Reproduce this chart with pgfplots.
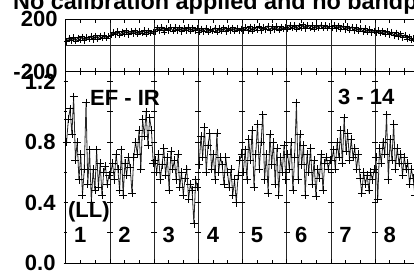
\documentclass[border=0pt]{standalone}
\usepackage{pgfplots}
\pgfplotsset{compat=1.18}
\usepackage{fontspec}
\setmainfont{Liberation Sans}
\pgfplotsset{pp/.style={scale only axis, width=353.6pt, xmin=0, xmax=8,
  xtick={0,1,...,8}, xticklabels={}, minor x tick num=2, xtick align=inside,
  xmajorgrids, major grid style={black!85, line width=0.7pt},
  axis line style={line width=0.8pt},
  major tick length=4pt, minor tick length=3.5pt,
  every tick/.style={black, line width=0.7pt},
  tick label style={font=\fontsize{22}{24}\selectfont\bfseries},
  yticklabel style={inner sep=0pt, xshift=-8pt}},
  dat/.style={black!85, line width=0.8pt, mark=+, mark size=4pt, mark options={black, line width=0.7pt}},
  tdat/.style={black, line width=0.9pt, mark=+, mark size=3pt, mark options={black, line width=0.7pt}}}
\begin{document}
\begin{tikzpicture}[x=1pt,y=1pt]
\path[use as bounding box] (0,0) rectangle (414,-277);
\clip (0,0) rectangle (414,-277);
\node[anchor=base west, inner sep=0pt, font=\fontsize{23.4}{26}\selectfont\bfseries] at (13,-9.5) {No calibration applied and no bandpass};
% top panel: phase
\begin{axis}[pp, at={(65.7pt,-71.7pt)}, anchor=south west, height=52.4pt,
  ymin=-200, ymax=200, ytick={-200,200}, yticklabels={-200,200}, ytick align=inside,
  extra y ticks={0}, extra y tick labels={}, extra y tick style={grid=major, major tick length=0pt}]
\addplot[tdat] coordinates {(0.025,30)(0.075,58)(0.125,36)(0.175,64)(0.225,34)(0.275,60)(0.325,42)(0.375,68)(0.425,38)(0.475,66)(0.525,46)(0.575,72)(0.625,44)(0.675,74)(0.725,50)(0.775,76)(0.825,54)(0.875,78)(0.925,56)(0.975,72)};
\addplot[tdat] coordinates {(1.025,78)(1.075,104)(1.125,84)(1.175,110)(1.225,80)(1.275,106)(1.325,88)(1.375,112)(1.425,84)(1.475,108)(1.525,90)(1.575,114)(1.625,86)(1.675,110)(1.725,92)(1.775,116)(1.825,88)(1.875,112)(1.925,94)(1.975,106)};
\addplot[tdat] coordinates {(2.025,106)(2.075,136)(2.125,112)(2.175,140)(2.225,104)(2.275,134)(2.325,114)(2.375,140)(2.425,110)(2.475,138)(2.525,112)(2.575,136)(2.625,106)(2.675,134)(2.725,114)(2.775,140)(2.825,110)(2.875,136)(2.925,112)(2.975,130)};
\addplot[tdat] coordinates {(3.025,102)(3.075,128)(3.125,106)(3.175,132)(3.225,100)(3.275,126)(3.325,108)(3.375,134)(3.425,104)(3.475,130)(3.525,110)(3.575,136)(3.625,106)(3.675,132)(3.725,112)(3.775,136)(3.825,108)(3.875,132)(3.925,114)(3.975,128)};
\addplot[tdat] coordinates {(4.025,112)(4.075,138)(4.125,114)(4.175,144)(4.225,108)(4.275,140)(4.325,118)(4.375,146)(4.425,112)(4.475,142)(4.525,120)(4.575,148)(4.625,114)(4.675,144)(4.725,122)(4.775,148)(4.825,118)(4.875,144)(4.925,124)(4.975,138)};
\addplot[tdat] coordinates {(5.025,126)(5.075,154)(5.125,130)(5.175,156)(5.225,124)(5.275,152)(5.325,132)(5.375,158)(5.425,128)(5.475,156)(5.525,134)(5.575,154)(5.625,126)(5.675,152)(5.725,132)(5.775,156)(5.825,130)(5.875,154)(5.925,134)(5.975,148)};
\addplot[tdat] coordinates {(6.025,132)(6.075,154)(6.125,128)(6.175,152)(6.225,124)(6.275,148)(6.325,122)(6.375,146)(6.425,118)(6.475,142)(6.525,114)(6.575,138)(6.625,110)(6.675,134)(6.725,106)(6.775,130)(6.825,102)(6.875,124)(6.925,98)(6.975,114)};
\addplot[tdat] coordinates {(7.025,98)(7.075,118)(7.125,92)(7.175,114)(7.225,88)(7.275,110)(7.325,82)(7.375,104)(7.425,76)(7.475,98)(7.525,68)(7.575,90)(7.625,60)(7.675,80)(7.725,50)(7.775,68)(7.825,40)(7.875,56)(7.925,28)(7.975,34)};
\end{axis}
% bottom panel: amplitude
\begin{axis}[pp, at={(65.7pt,-263pt)}, anchor=south west, height=191.3pt,
  ymin=0, ymax=1.265, ytick={0,0.4,0.8,1.2}, yticklabels={0.0,0.4,0.8,1.2},
  minor y tick num=1, ytick align=center]
\addplot[draw=none, mark=-, mark size=3pt, mark options={black, line width=0.7pt}] coordinates {
(1,0.2)(1,0.4)(1,0.6)(1,0.8)(1,1.0)(1,1.2)
(2,0.2)(2,0.4)(2,0.6)(2,0.8)(2,1.0)(2,1.2)
(3,0.2)(3,0.4)(3,0.6)(3,0.8)(3,1.0)(3,1.2)
(4,0.2)(4,0.4)(4,0.6)(4,0.8)(4,1.0)(4,1.2)
(5,0.2)(5,0.4)(5,0.6)(5,0.8)(5,1.0)(5,1.2)
(6,0.2)(6,0.4)(6,0.6)(6,0.8)(6,1.0)(6,1.2)
(7,0.2)(7,0.4)(7,0.6)(7,0.8)(7,1.0)(7,1.2)};
\addplot[dat] coordinates {(0.02,0.80)(0.06,0.95)(0.10,1.02)(0.14,0.85)(0.18,1.10)(0.22,0.68)(0.26,0.80)(0.30,0.55)(0.34,0.72)(0.38,0.45)(0.42,0.62)(0.46,1.06)(0.50,0.52)(0.54,0.75)(0.58,0.40)(0.62,0.62)(0.66,0.48)(0.70,0.75)(0.74,0.50)(0.78,0.66)(0.82,0.45)(0.86,0.60)(0.90,0.64)(0.94,0.52)(0.98,0.58)};
\addplot[dat] coordinates {(1.02,0.60)(1.06,0.66)(1.10,0.55)(1.14,0.72)(1.18,0.62)(1.22,0.48)(1.26,0.75)(1.30,0.45)(1.34,0.66)(1.38,0.58)(1.42,0.70)(1.46,0.63)(1.50,0.46)(1.54,0.70)(1.58,0.80)(1.62,0.72)(1.66,0.88)(1.70,0.62)(1.74,0.95)(1.78,0.84)(1.82,1.00)(1.86,0.78)(1.90,0.96)(1.94,0.88)(1.98,0.66)};
\addplot[dat] coordinates {(2.02,0.68)(2.06,0.60)(2.10,0.72)(2.14,0.55)(2.18,0.65)(2.22,0.76)(2.26,0.58)(2.30,0.70)(2.34,0.48)(2.38,0.74)(2.42,0.62)(2.46,0.68)(2.50,0.55)(2.54,0.72)(2.58,0.50)(2.62,0.60)(2.66,0.45)(2.70,0.56)(2.74,0.62)(2.78,0.42)(2.82,0.52)(2.86,0.48)(2.90,0.26)(2.94,0.55)(2.98,0.50)};
\addplot[dat] coordinates {(3.02,0.65)(3.06,0.84)(3.10,0.70)(3.14,0.90)(3.18,0.60)(3.22,0.78)(3.26,0.86)(3.30,0.62)(3.34,0.72)(3.38,0.55)(3.42,0.86)(3.46,0.60)(3.50,0.70)(3.54,0.65)(3.58,0.52)(3.62,0.70)(3.66,0.60)(3.70,0.50)(3.74,0.62)(3.78,0.45)(3.82,0.55)(3.86,0.40)(3.90,0.58)(3.94,0.68)(3.98,0.72)};
\addplot[dat] coordinates {(4.02,0.60)(4.06,0.75)(4.10,0.55)(4.14,0.82)(4.18,0.68)(4.22,0.88)(4.26,0.50)(4.30,0.72)(4.34,0.92)(4.38,0.62)(4.42,0.80)(4.46,0.98)(4.50,0.55)(4.54,0.72)(4.58,0.46)(4.62,0.85)(4.66,0.65)(4.70,0.80)(4.74,0.52)(4.78,0.76)(4.82,0.45)(4.86,0.70)(4.90,0.60)(4.94,0.78)(4.98,0.55)};
\addplot[dat] coordinates {(5.02,0.72)(5.06,0.62)(5.10,0.80)(5.14,0.48)(5.18,0.70)(5.22,1.06)(5.26,0.55)(5.30,0.85)(5.34,0.65)(5.38,0.78)(5.42,0.45)(5.46,0.72)(5.50,0.60)(5.54,0.76)(5.58,0.52)(5.62,0.68)(5.66,0.44)(5.70,0.62)(5.74,0.56)(5.78,0.72)(5.82,0.48)(5.86,0.66)(5.90,0.70)(5.94,0.62)(5.98,0.68)};
\addplot[dat] coordinates {(6.02,0.68)(6.06,0.75)(6.10,0.62)(6.14,0.80)(6.18,0.70)(6.22,0.88)(6.26,0.66)(6.30,0.96)(6.34,0.74)(6.38,0.86)(6.42,0.68)(6.46,0.82)(6.50,0.70)(6.54,0.76)(6.58,0.62)(6.62,0.72)(6.66,0.56)(6.70,0.46)(6.74,0.60)(6.78,0.52)(6.82,0.58)(6.86,0.48)(6.90,0.60)(6.94,0.55)(6.98,0.62)};
\addplot[dat] coordinates {(7.02,0.70)(7.06,0.42)(7.10,0.76)(7.14,0.66)(7.18,0.80)(7.22,0.72)(7.26,0.98)(7.30,0.55)(7.34,0.82)(7.38,0.68)(7.42,0.92)(7.46,0.62)(7.50,0.76)(7.54,0.66)(7.58,0.72)(7.62,0.58)(7.66,0.70)(7.70,0.62)(7.74,0.66)(7.78,0.52)(7.82,0.62)(7.86,0.56)(7.90,0.45)(7.94,0.58)(7.98,0.40)};
\begin{scope}[every node/.style={font=\fontsize{22}{24}\selectfont\bfseries, inner sep=0pt}]
\node at (axis cs:0.33,0.185) {1};
\node at (axis cs:1.33,0.185) {2};
\node at (axis cs:2.33,0.185) {3};
\node at (axis cs:3.33,0.185) {4};
\node at (axis cs:4.33,0.185) {5};
\node at (axis cs:5.33,0.185) {6};
\node at (axis cs:6.33,0.185) {7};
\node at (axis cs:7.33,0.185) {8};
\node[anchor=west] at (axis cs:0.05,0.337) {(LL)};
\node[anchor=west] at (axis cs:0.55,1.089) {EF - IR};
\node[anchor=west] at (axis cs:6.16,1.096) {3 - 14};
\end{scope}
\end{axis}
\end{tikzpicture}
\end{document}
